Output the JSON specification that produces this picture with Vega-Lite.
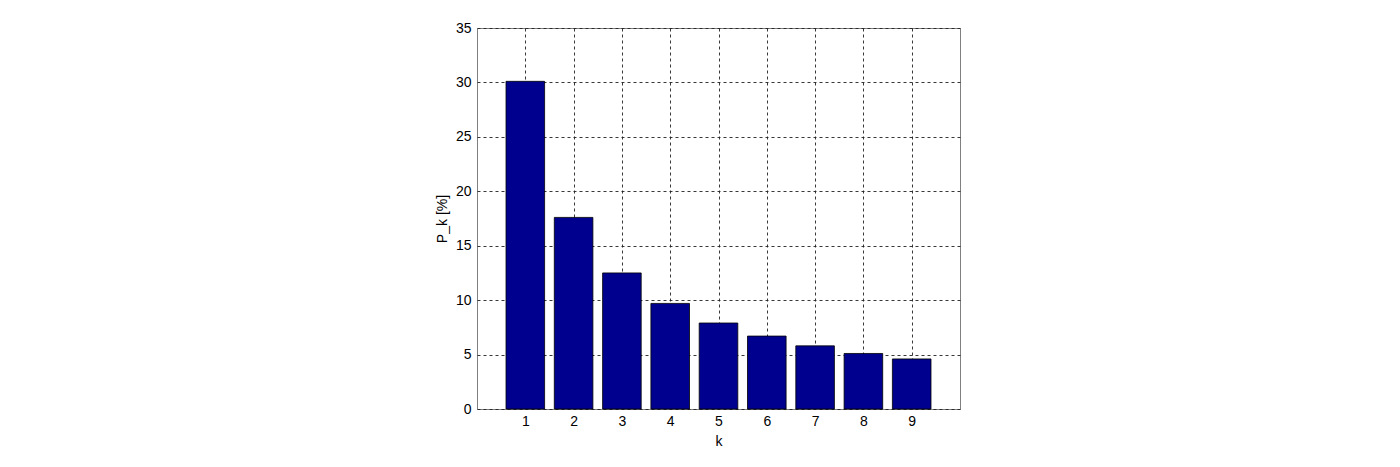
{
  "$schema": "https://vega.github.io/schema/vega-lite/v6.json",
  "width": 483,
  "height": 381,
  "autosize": {"type": "none"},
  "padding": {"left": 477, "top": 28, "right": 440, "bottom": 58},
  "background": "white",
  "config": {
    "view": {"stroke": "#808080", "strokeWidth": 1},
    "font": "Liberation Sans",
    "axis": {
      "labelFont": "Liberation Sans",
      "titleFont": "Liberation Sans",
      "labelFontSize": 14,
      "titleFontSize": 14,
      "titleFontWeight": "normal",
      "labelColor": "#000",
      "titleColor": "#000",
      "domain": false,
      "ticks": false,
      "gridColor": "#222",
      "gridDash": [3, 3],
      "gridOpacity": 0.9,
      "gridWidth": 1,
      "zindex": 1
    }
  },
  "data": {
    "values": [
      {"k": 1, "p": 30.1},
      {"k": 2, "p": 17.6},
      {"k": 3, "p": 12.5},
      {"k": 4, "p": 9.7},
      {"k": 5, "p": 7.9},
      {"k": 6, "p": 6.7},
      {"k": 7, "p": 5.8},
      {"k": 8, "p": 5.1},
      {"k": 9, "p": 4.6}
    ]
  },
  "mark": {"type": "bar", "width": 38.6, "color": "#00008F", "stroke": "#000", "strokeWidth": 0.8},
  "encoding": {
    "x": {
      "field": "k",
      "type": "quantitative",
      "scale": {"domain": [0, 10], "nice": false, "padding": 0},
      "axis": {"title": "k", "values": [1, 2, 3, 4, 5, 6, 7, 8, 9], "labelPadding": 5, "titlePadding": 6, "labelFlush": false}
    },
    "y": {
      "field": "p",
      "type": "quantitative",
      "scale": {"domain": [0, 35], "nice": false, "padding": 0},
      "axis": {"title": "P_k [%]", "values": [0, 5, 10, 15, 20, 25, 30, 35], "labelPadding": 6, "titlePadding": 6, "labelFlush": false}
    }
  }
}
